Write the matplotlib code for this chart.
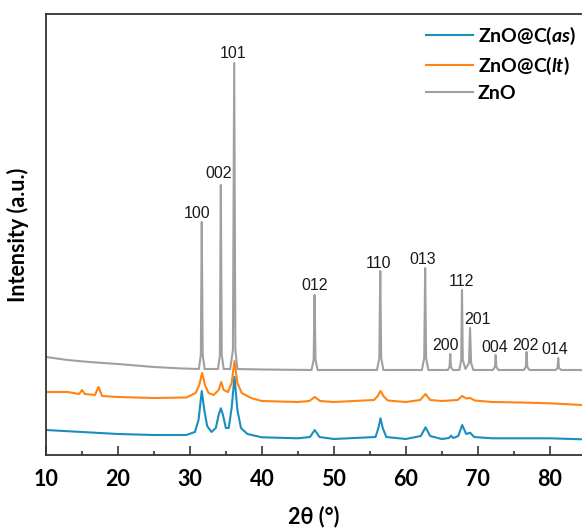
import numpy as np
import matplotlib.pyplot as plt
from matplotlib.ticker import MultipleLocator

## Données (2theta en degrés, intensité en u.a. avec décalage vertical)

# ZnO@C(as)
tt_as = [10, 15, 20, 25, 29.5, 30.7, 31.2, 31.65, 32.0, 32.4, 33.0, 33.6, 34.0, 34.3, 34.6,
         35.0, 35.4, 35.8, 36.2, 36.6, 37.1, 38, 40, 45, 46.7, 47.35, 48, 50, 55.8, 56.2,
         56.5, 56.8, 57.3, 60, 62.1, 62.75, 63.4, 65, 66.0, 66.3, 66.6, 67.3, 67.85, 68.4,
         68.95, 69.5, 72, 80, 84.5]
ii_as = [25, 23, 21, 20, 20, 23, 35, 64, 45, 29, 23, 27, 40, 46.7, 40,
         27, 27, 47, 78.3, 45, 27, 21, 17.7, 16.7, 18, 25, 18, 16, 18, 27,
         36.7, 27, 18, 16, 19, 27.7, 19, 16, 17, 19.3, 17, 19, 30, 21,
         22.3, 18, 16.7, 16.7, 15.7]

# ZnO@C(lt)
tt_lt = [10, 13, 14.6, 15.0, 15.4, 16.8, 17.3, 17.8, 20, 25, 29.5, 30.8, 31.3, 31.7, 32.1,
         32.6, 33.3, 34.0, 34.35, 34.7, 35.3, 35.8, 36.2, 36.6, 37.2, 38.5, 40, 45, 46.6,
         47.35, 48.1, 50, 55.6, 56.1, 56.5, 56.9, 57.5, 60, 62.0, 62.75, 63.4, 65, 67.2,
         67.85, 68.4, 68.95, 69.6, 72, 76, 80, 84.5]
ii_lt = [63, 63, 61, 65, 61, 60, 68, 59, 58, 57, 57.5, 62, 70, 82, 70,
         62, 60, 65, 73, 65, 63, 72, 94, 72, 62, 57, 54, 53, 54,
         58, 54, 53, 55, 59, 64, 59, 54.5, 53, 55, 61, 55, 54, 55,
         59, 56.5, 57, 54.5, 53, 52.5, 51.7, 50]

# ZnO
tt_zno = [10, 13, 16, 20, 25, 29, 31.25, 31.52, 31.65, 31.78, 32.05, 33.9, 34.17, 34.3,
          34.43, 34.7, 35.6, 35.98, 36.16, 36.32, 36.6, 40, 46.9, 47.2, 47.33, 47.46, 47.75,
          56.0, 56.33, 56.46, 56.59, 56.9, 62.25, 62.57, 62.7, 62.83, 63.15, 65.85, 66.09,
          66.19, 66.29, 66.55, 67.45, 67.71, 67.82, 67.93, 68.3, 68.79, 68.94, 69.09, 69.4,
          72.1, 72.4, 72.5, 72.6, 72.9, 76.4, 76.7, 76.8, 76.9, 77.2, 80.85, 81.1, 81.2,
          81.3, 81.6, 84.5]
ii_zno = [98, 95, 93, 91, 88, 86.5, 86, 100, 233, 100, 86, 86, 100, 270,
          100, 86, 86, 105, 392, 105, 86, 85.5, 85, 95, 160, 95, 85,
          85, 97, 184, 97, 85, 85, 97, 187, 97, 85, 85, 88,
          101, 88, 85, 85, 95, 165, 95, 86, 92, 127, 92, 85,
          85, 88, 100, 88, 85, 85, 88, 103, 88, 85, 85, 87, 97,
          87, 85, 85]

# Indexation des pics du ZnO
hkl = ["100", "002", "101", "012", "110", "013", "200", "112", "201", "004", "202", "014"]
hkl_x = [30.95, 33.98, 35.94, 47.33, 56.19, 62.33, 65.49, 67.68, 69.92, 72.33, 76.66, 80.77]
hkl_y = [242, 282, 402, 170, 192, 195, 110, 173, 135, 107, 110, 105]

bleu = "#1a8fbf"
orange = "#ff8412"
gris = "#a0a0a0"

plt.rcParams['mathtext.fontset'] = 'custom'
plt.rcParams['mathtext.bfit'] = 'Lato:bold:italic'
plt.rcParams['mathtext.bf'] = 'Lato:bold'
plt.rcParams['mathtext.rm'] = 'Lato:bold'

fig = plt.figure(figsize=(5.82, 5.31), dpi=100)
ax = fig.add_axes([46/582, 76/531, 1 - 46/582, (455-14)/531])

ax.plot(tt_as, ii_as, color=bleu, lw=1.5, label=r"ZnO@C($\mathbfit{as}$)")
ax.plot(tt_lt, ii_lt, color=orange, lw=1.5, label=r"ZnO@C($\mathbfit{lt}$)")
ax.plot(tt_zno, ii_zno, color=gris, lw=1.5, label="ZnO")

for lab, x, y in zip(hkl, hkl_x, hkl_y):
    ax.text(x, y, lab, ha='center', va='center', fontsize=11.5,
            family='Liberation Sans', color='#1a1a1a')

ax.set_xlim(10, 84.5)
ax.set_ylim(0, 441)

for s in ['left', 'top', 'bottom']:
    ax.spines[s].set_color('#333333')
    ax.spines[s].set_linewidth(1.3)
ax.spines['right'].set_visible(False)

ax.xaxis.set_major_locator(MultipleLocator(10))
ax.xaxis.set_minor_locator(MultipleLocator(5))
ax.tick_params(axis='x', which='major', direction='in', length=6.5, width=1.2,
               color='#333333', pad=10)
ax.tick_params(axis='x', which='minor', direction='in', length=3, width=1.2,
               color='#333333')
ax.set_yticks([])
for t in ax.get_xticklabels():
    t.set_fontfamily('Lato')
    t.set_fontweight('bold')
    t.set_fontsize(15.5)

ax.set_xlabel("2θ (°)", fontsize=15.5, fontweight='bold', family='Lato', labelpad=11)
ax.set_ylabel("Intensity (a.u.)", fontsize=15.5, fontweight='bold', family='Lato', labelpad=12)

leg = fig.legend(loc='upper left', bbox_to_anchor=(426/582, 1 - 25/531), frameon=False,
                 borderpad=0, borderaxespad=0, handlelength=2.4, handletextpad=0.25,
                 labelspacing=0.4, prop={'family': 'Lato', 'weight': 'bold', 'size': 14})

fig.savefig("out.png", dpi=100)
